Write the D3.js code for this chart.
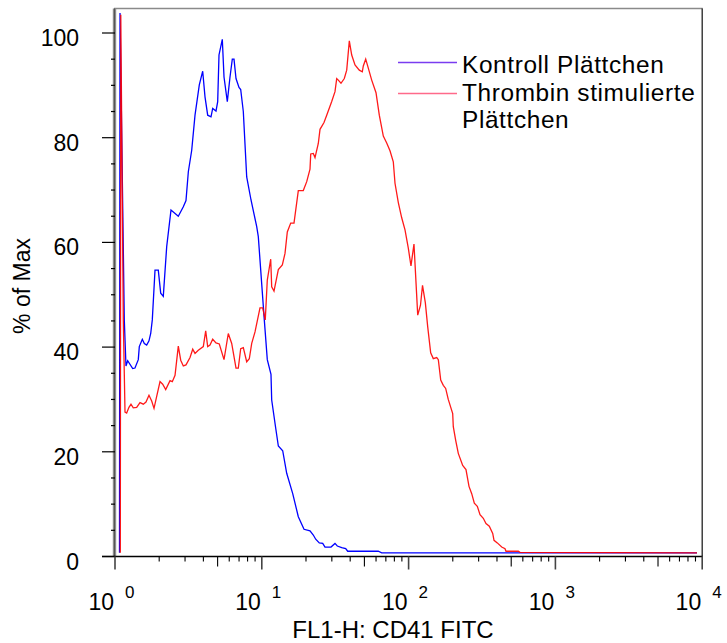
<!DOCTYPE html>
<html><head><meta charset="utf-8">
<script src="https://cdn.jsdelivr.net/npm/d3@7"></script>
<style>body{margin:0;background:#fff}svg{display:block;font-family:"Liberation Sans",Arial,Helvetica,sans-serif}</style>
</head><body><svg id="c" width="727" height="643"></svg>
<script>
// ---- data ----
const seriesNames = ["Kontroll Plättchen", "Thrombin stimulierte", "Plättchen"];
const xTickExponents = [0, 1, 2, 3, 4];
const yTickValues = [0, 20, 40, 60, 80, 100];
const xTitle = "FL1-H: CD41 FITC";
const yTitle = "% of Max";

const blueX = [1.073, 1.082, 1.157, 1.188, 1.220, 1.320, 1.368, 1.441, 1.464, 1.535,
  1.584, 1.644, 1.704, 1.751, 1.795, 1.873, 1.972, 2.048, 2.133, 2.250,
  2.407, 2.699, 2.920, 3.045, 3.159, 3.331, 3.508, 3.752, 3.957, 4.103,
  4.280, 4.508, 4.629, 4.875, 5.007, 5.110, 5.382, 5.528, 5.821, 6.073,
  6.296, 6.466, 6.673, 6.993, 7.182, 7.482, 7.891, 8.444, 9.233, 9.467,
  10.40, 10.90, 11.55, 11.68, 12.44, 12.96, 13.88, 14.78, 16.24, 17.73,
  19.39, 21.30, 22.43, 23.29, 24.64, 26.00, 26.95, 29.60, 31.52, 32.68,
  35.03, 37.28, 38.47, 62.17, 65.59, 9218];
const blueY = [0.7, 103.8, 45.2, 36.4, 37.4, 35.9, 36.0, 37.6, 40.1, 41.5,
  40.7, 40.4, 41.2, 42.6, 45.2, 54.7, 54.7, 50.3, 49.7, 59.2,
  66.2, 65.0, 66.8, 68.0, 73.5, 77.6, 84.3, 90.1, 92.7, 87.8,
  84.3, 84.0, 85.6, 85.1, 86.9, 95.8, 98.8, 91.6, 86.9, 91.6,
  95.0, 95.0, 91.3, 89.6, 89.2, 85.0, 72.5, 68.1, 63.0, 61.1,
  45.2, 37.6, 34.8, 29.9, 24.5, 21.1, 20.2, 15.9, 12.0, 7.6,
  5.2, 4.9, 4.1, 3.3, 2.6, 2.5, 1.8, 1.8, 2.5, 2.0,
  1.7, 1.5, 1.0, 1.0, 0.7, 0.7];

const redX = [1.087, 1.095, 1.139, 1.170, 1.201, 1.245, 1.285, 1.332, 1.405, 1.480,
  1.559, 1.626, 1.704, 1.778, 1.844, 1.923, 2.026, 2.113, 2.215, 2.370,
  2.457, 2.564, 2.699, 2.803, 2.920, 3.045, 3.244, 3.384, 3.508, 3.693,
  3.995, 4.148, 4.280, 4.437, 4.629, 4.875, 5.134, 5.528, 5.912, 6.237,
  6.673, 6.918, 7.182, 7.482, 7.891, 8.222, 8.537, 8.990, 9.721, 10.14,
  10.56, 10.90, 11.50, 11.68, 12.11, 12.96, 13.80, 14.39, 14.92, 15.74,
  16.57, 17.73, 19.17, 20.23, 21.30, 21.54, 22.43, 23.04, 24.26, 24.92,
  26.53, 27.68, 29.94, 31.52, 32.38, 33.20, 34.63, 36.48, 37.88, 39.46,
  40.97, 43.14, 46.15, 48.38, 49.14, 51.03, 53.15, 56.06, 59.98, 63.16,
  67.25, 70.93, 74.69, 78.66, 80.79, 85.11, 89.75, 94.52, 99.54, 103.8,
  108.8, 115.4, 120.5, 124.4, 130.0, 134.9, 141.4, 147.3, 155.4, 159.4,
  165.5, 172.4, 178.9, 186.3, 199.7, 201.6, 209.3, 218.0, 233.6, 246.0,
  257.9, 269.1, 280.3, 293.8, 306.5, 322.8, 336.7, 354.6, 374.1, 381.8,
  402.1, 430.8, 453.7, 460.8, 558.9, 574.1, 9218];
const redY = [0.7, 103.5, 45.2, 27.6, 27.4, 28.5, 29.1, 28.4, 28.5, 29.4,
  29.1, 29.5, 30.8, 29.7, 28.3, 30.6, 33.4, 32.9, 31.9, 33.6,
  33.4, 34.6, 40.2, 37.5, 36.4, 36.6, 38.0, 39.6, 38.8, 39.4,
  40.1, 43.1, 40.1, 40.4, 41.5, 40.8, 40.6, 37.6, 42.6, 40.7,
  36.0, 36.0, 39.7, 39.9, 37.2, 37.8, 40.7, 42.9, 47.5, 47.5,
  45.2, 52.8, 56.8, 51.5, 50.7, 54.8, 55.7, 57.9, 62.0, 63.7,
  63.7, 69.9, 69.9, 71.6, 74.0, 76.9, 77.0, 76.2, 78.9, 81.6,
  82.9, 84.3, 86.9, 88.8, 91.3, 91.0, 90.4, 91.3, 92.9, 98.5,
  95.8, 93.9, 92.9, 92.6, 93.7, 95.0, 93.3, 91.0, 88.6, 84.3,
  80.3, 79.0, 77.5, 75.4, 71.3, 67.6, 64.7, 62.4, 58.9, 55.5,
  59.7, 46.1, 48.0, 51.8, 48.5, 43.9, 38.9, 37.8, 38.0, 37.6,
  33.7, 32.7, 32.1, 30.0, 27.3, 24.8, 22.2, 19.7, 17.4, 16.6,
  13.4, 12.0, 10.2, 9.6, 8.0, 7.3, 6.3, 5.8, 4.4, 3.1,
  2.6, 1.8, 1.5, 1.0, 1.0, 0.8, 0.7];

// ---- chart ----
const svg = d3.select("#c");
const L = 115, R = 702.2, T = 8.5, B = 556.5;
const x = d3.scaleLog().domain([1, 1e4]).range([L, R]);
const y = d3.scaleLinear().domain([0, 100]).range([B, 33]);

// frame
svg.append("line").attr("x1", L - 1).attr("x2", R + 0.5).attr("y1", T).attr("y2", T)
  .attr("stroke", "#8a8a8a").attr("stroke-width", 1.6);
svg.append("line").attr("x1", R).attr("x2", R).attr("y1", T).attr("y2", B)
  .attr("stroke", "#222").attr("stroke-width", 1.3);
svg.append("line").attr("x1", L - 0.5).attr("x2", L - 0.5).attr("y1", T).attr("y2", B)
  .attr("stroke", "#8c8c8c").attr("stroke-width", 3.4);
svg.append("line").attr("x1", L - 0.5).attr("x2", L - 0.5).attr("y1", T).attr("y2", B)
  .attr("stroke", "#555").attr("stroke-width", 1);

// y ticks
const yTicksAll = d3.range(0, 101, 5);
svg.selectAll(".yt").data(yTicksAll).enter().append("line")
  .attr("x1", d => d % 20 === 0 ? 102 : 111).attr("x2", L)
  .attr("y1", d => y(d)).attr("y2", d => y(d))
  .attr("stroke", "#000").attr("stroke-width", 1.2);
svg.selectAll(".yl").data(yTickValues).enter().append("text")
  .attr("x", 79).attr("y", d => y(d) + 13)
  .attr("text-anchor", "end").attr("font-size", 23).text(d => d);

// x axis line & ticks
svg.append("line").attr("x1", 102).attr("x2", R + 0.5).attr("y1", B).attr("y2", B)
  .attr("stroke", "#000").attr("stroke-width", 1.3);
const xTicksAll = [];
for (let e = 0; e < 4; e++) for (let m = 1; m < 10; m++) xTicksAll.push({v: m * Math.pow(10, e), m});
xTicksAll.push({v: 1e4, m: 1});
svg.selectAll(".xt").data(xTicksAll).enter().append("line")
  .attr("x1", d => x(d.v)).attr("x2", d => x(d.v))
  .attr("y1", B).attr("y2", d => B + (d.m === 1 ? 13 : d.m === 5 ? 10 : 5))
  .attr("stroke", d => d.m === 1 ? "#444" : "#000").attr("stroke-width", d => d.m === 1 ? 1.6 : 1.1);
const xl = svg.selectAll(".xl").data(xTickExponents).enter().append("g");
xl.append("text").attr("x", d => x(Math.pow(10, d)) - 1).attr("y", 610)
  .attr("text-anchor", "end").attr("font-size", 23).text("10");
xl.append("text").attr("x", d => x(Math.pow(10, d)) + 10).attr("y", 598)
  .attr("font-size", 17).text(d => d);

// titles
svg.append("text").attr("x", 393).attr("y", 638).attr("text-anchor", "middle")
  .attr("font-size", 24).text(xTitle);
svg.append("text").attr("transform", "translate(30,286) rotate(-90)")
  .attr("text-anchor", "middle").attr("font-size", 23).text(yTitle);

// curves
const line = d3.line().x(d => x(d[0])).y(d => y(d[1]));
const blue = blueX.map((v, i) => [v, blueY[i]]);
const red = redX.map((v, i) => [v, redY[i]]);
svg.append("path").datum(blue).attr("d", line).attr("fill", "none")
  .attr("stroke", "#0000ff").attr("stroke-width", 1.3);
svg.append("path").datum(red).attr("d", line).attr("fill", "none")
  .attr("stroke", "#ff0000").attr("stroke-width", 1.3).attr("stroke-opacity", 0.9);

// legend
svg.append("line").attr("x1", 398).attr("x2", 457).attr("y1", 62.5).attr("y2", 62.5)
  .attr("stroke", "#7a3cf0").attr("stroke-width", 1.3);
svg.append("line").attr("x1", 398).attr("x2", 457).attr("y1", 93.5).attr("y2", 93.5)
  .attr("stroke", "#ff6a8a").attr("stroke-width", 1.3);
svg.selectAll(".lg").data(seriesNames).enter().append("text")
  .attr("x", 462).attr("y", (d, i) => [73, 100.5, 128][i])
  .attr("font-size", 24.4).attr("letter-spacing", "0.62px").text(d => d);
</script>
</body></html>
